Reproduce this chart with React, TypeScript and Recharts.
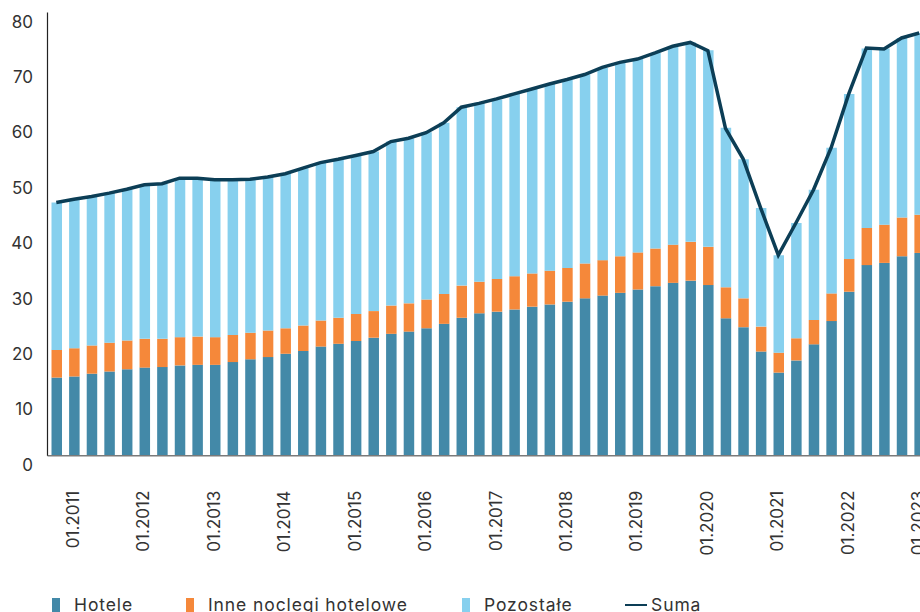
import React from "react"
import { ComposedChart, Bar, Line, XAxis, YAxis } from "recharts"

// kwartały od 10.2010 do 01.2023
const quarters = [
  "10.2010",
  "01.2011", "04.2011", "07.2011", "10.2011",
  "01.2012", "04.2012", "07.2012", "10.2012",
  "01.2013", "04.2013", "07.2013", "10.2013",
  "01.2014", "04.2014", "07.2014", "10.2014",
  "01.2015", "04.2015", "07.2015", "10.2015",
  "01.2016", "04.2016", "07.2016", "10.2016",
  "01.2017", "04.2017", "07.2017", "10.2017",
  "01.2018", "04.2018", "07.2018", "10.2018",
  "01.2019", "04.2019", "07.2019", "10.2019",
  "01.2020", "04.2020", "07.2020", "10.2020",
  "01.2021", "04.2021", "07.2021", "10.2021",
  "01.2022", "04.2022", "07.2022", "10.2022",
  "01.2023",
]

const hotele = [
  14.1, 14.3, 14.8, 15.2, 15.6, 15.9, 16.0, 16.3, 16.4, 16.4,
  16.9, 17.4, 17.8, 18.4, 18.9, 19.7, 20.2, 20.7, 21.3, 22.0,
  22.4, 23.0, 23.8, 24.9, 25.7, 26.0, 26.4, 26.9, 27.3, 27.8,
  28.4, 28.9, 29.4, 30.0, 30.6, 31.2, 31.6, 30.8, 24.8, 23.2,
  18.8, 15.0, 17.2, 20.1, 24.3, 29.6, 34.4, 34.8, 36.0, 36.6,
]

const inne = [
  5.0, 5.1, 5.1, 5.2, 5.2, 5.2, 5.1, 5.1, 5.1, 5.0,
  4.9, 4.8, 4.8, 4.6, 4.6, 4.7, 4.7, 4.9, 4.8, 5.1,
  5.1, 5.2, 5.4, 5.8, 5.7, 5.9, 6.0, 6.0, 6.1, 6.1,
  6.3, 6.4, 6.6, 6.7, 6.8, 6.9, 7.0, 6.9, 5.6, 5.2,
  4.5, 3.6, 4.0, 4.4, 5.0, 5.9, 6.7, 6.9, 7.0, 6.9,
]

const pozostale = [
  26.6, 26.9, 26.9, 27.0, 27.3, 27.8, 28.0, 28.7, 28.6, 28.4,
  27.9, 27.7, 27.7, 27.9, 28.4, 28.5, 28.6, 28.6, 28.8, 29.6,
  29.8, 30.2, 30.9, 32.2, 32.3, 32.4, 32.9, 33.3, 33.7, 33.9,
  34.1, 34.7, 35.0, 34.9, 35.3, 35.8, 36.0, 35.5, 28.8, 25.1,
  21.4, 17.6, 20.8, 23.5, 26.3, 29.8, 32.4, 31.8, 32.4, 32.8,
]

const suma = [
  45.7, 46.3, 46.8, 47.4, 48.1, 48.9, 49.1, 50.1, 50.1, 49.8,
  49.8, 49.9, 50.3, 50.9, 51.9, 52.9, 53.5, 54.2, 54.9, 56.7,
  57.3, 58.3, 60.1, 62.9, 63.6, 64.4, 65.3, 66.2, 67.1, 67.9,
  68.8, 70.1, 71.0, 71.6, 72.7, 73.9, 74.6, 73.1, 59.1, 53.6,
  44.7, 36.2, 42.0, 48.0, 55.6, 65.3, 73.6, 73.4, 75.4, 76.3,
]

const yTicks = [0, 10, 20, 30, 40, 50, 60, 70, 80]

const data = quarters.map((q, i) => ({
  q,
  Hotele: hotele[i],
  Inne: inne[i],
  Pozostale: pozostale[i],
  Suma: suma[i],
}))

const FONT = "Inter, 'Open Sans', sans-serif"
const TEXT = "#333333"

const YTick = (props: any) => {
  const { x, y, payload } = props
  return (
    <text x={x} y={y + 9} textAnchor="end" dominantBaseline="central"
      fontSize={17} fontFamily={FONT} fill={TEXT}>
      {payload.value}
    </text>
  )
}

const XTick = (props: any) => {
  const { x, y, payload } = props
  if (!String(payload.value).startsWith("01.")) return null
  return (
    <text x={x - 1} y={y} textAnchor="end" dominantBaseline="central"
      transform={`rotate(-90, ${x - 1}, ${y})`}
      fontSize={17} fontFamily={FONT} fill={TEXT}>
      {payload.value}
    </text>
  )
}

const legendItems = [
  { label: "Hotele", color: "#4389a8", kind: "box", left: 52 },
  { label: "Inne noclegi hotelowe", color: "#f5883a", kind: "box", left: 186 },
  { label: "Pozostałe", color: "#87d0ee", kind: "box", left: 462 },
  { label: "Suma", color: "#0c3e56", kind: "line", left: 625 },
]

export default function App() {
  return (
    <div style={{ position: "absolute", left: 0, top: 0, width: 920, height: 612, overflow: "hidden", background: "#fff" }}>
      <ComposedChart
        width={928}
        height={612}
        data={data}
        barSize={10.5}
        margin={{ top: 12.5, right: 0, bottom: 0, left: 0 }}
      >
        <XAxis
          dataKey="q"
          interval={0}
          height={156.3}
          tickLine={false}
          tickSize={0}
          tickMargin={35}
          axisLine={{ stroke: "#7a7a7a", strokeWidth: 1.5 }}
          tick={<XTick />}
        />
        <YAxis
          width={47.5}
          domain={[0, 80]}
          ticks={yTicks}
          interval={0}
          tickLine={false}
          tickSize={0}
          tickMargin={14.5}
          axisLine={{ stroke: "#222222", strokeWidth: 1.2 }}
          tick={<YTick />}
        />
        <Bar dataKey="Hotele" stackId="a" fill="#4389a8" isAnimationActive={false} />
        <Bar dataKey="Inne" stackId="a" fill="#f5883a" isAnimationActive={false} />
        <Bar dataKey="Pozostale" stackId="a" fill="#87d0ee" isAnimationActive={false} />
        <Line dataKey="Suma" type="linear" stroke="#0c3e56" strokeWidth={3.5} dot={false}
          activeDot={false} isAnimationActive={false} />
      </ComposedChart>
      {legendItems.map((it) => (
        <div key={it.label} style={{ position: "absolute", left: it.left, top: 592, height: 24, display: "flex", alignItems: "center" }}>
          {it.kind === "box" ? (
            <div style={{ width: 7.5, height: 16, background: it.color, marginRight: 14.5, marginTop: 4 }} />
          ) : (
            <div style={{ width: 22, height: 2.5, background: it.color, marginRight: 4, marginTop: 2 }} />
          )}
          <span style={{ fontFamily: FONT, fontSize: 17.5, color: TEXT, letterSpacing: 0.9, whiteSpace: "nowrap" }}>
            {it.label}
          </span>
        </div>
      ))}
    </div>
  )
}
